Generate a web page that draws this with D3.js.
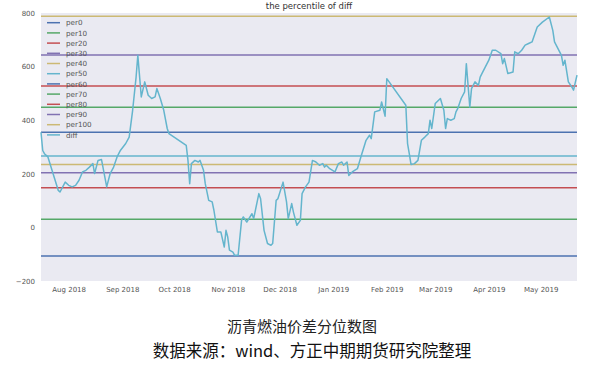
<!DOCTYPE html>
<html><head><meta charset="utf-8">
<script src="https://cdn.jsdelivr.net/npm/d3@7"></script>
<style>body{margin:0;background:#fff}svg{display:block}</style>
</head><body>
<svg id="c" width="600" height="366"></svg>
<script>
const title = "the percentile of diff";
const caption1 = "沥青燃油价差分位数图";
const caption2 = "数据来源：wind、方正中期期货研究院整理";
const percentileNames = ["per0","per10","per20","per30","per40","per50","per60","per70","per80","per90","per100"];
const percentileValues = [-107, 30, 148, 204, 235, 266, 355, 448, 528, 643, 788];
const seriesName = "diff";
const yTicks = [-200, 0, 200, 400, 600, 800];
const xTickMonths = ["2018-08-01","2018-09-01","2018-10-01","2018-11-01","2018-12-01","2019-01-01","2019-02-01","2019-03-01","2019-04-01","2019-05-01"];
const palette = ["#4C72B0","#55A868","#C44E52","#8172B2","#CCB974","#64B5CD"];
const diffDates = [
"2018-07-16","2018-07-17","2018-07-18","2018-07-20","2018-07-26","2018-07-27","2018-07-30",
"2018-08-01","2018-08-03","2018-08-05","2018-08-07","2018-08-09","2018-08-11","2018-08-13","2018-08-15","2018-08-16","2018-08-18","2018-08-20","2018-08-23","2018-08-25","2018-08-27","2018-08-29","2018-08-31",
"2018-09-03","2018-09-05","2018-09-07","2018-09-09","2018-09-10","2018-09-12","2018-09-14","2018-09-16","2018-09-18","2018-09-20","2018-09-21","2018-09-23","2018-09-25","2018-09-27","2018-09-28",
"2018-10-08","2018-10-09","2018-10-10","2018-10-11","2018-10-13","2018-10-15","2018-10-16","2018-10-18","2018-10-19","2018-10-21","2018-10-23","2018-10-24","2018-10-26","2018-10-28","2018-10-30","2018-10-31",
"2018-11-01","2018-11-02","2018-11-04","2018-11-05","2018-11-07","2018-11-09","2018-11-10","2018-11-12","2018-11-15","2018-11-16","2018-11-19","2018-11-20","2018-11-22","2018-11-24","2018-11-26","2018-11-27","2018-11-29","2018-11-30",
"2018-12-03","2018-12-05","2018-12-06","2018-12-08","2018-12-09","2018-12-11","2018-12-13","2018-12-14","2018-12-16","2018-12-18","2018-12-20","2018-12-22","2018-12-24","2018-12-26","2018-12-27","2018-12-28","2018-12-30",
"2019-01-02","2019-01-04","2019-01-06","2019-01-07","2019-01-09","2019-01-10","2019-01-12","2019-01-15","2019-01-17","2019-01-20","2019-01-22","2019-01-23","2019-01-25","2019-01-28","2019-01-29","2019-01-31",
"2019-02-01","2019-02-12","2019-02-13","2019-02-14","2019-02-15","2019-02-17","2019-02-19","2019-02-21","2019-02-23","2019-02-25","2019-02-26","2019-02-27",
"2019-03-01","2019-03-04","2019-03-06","2019-03-07","2019-03-08","2019-03-10","2019-03-12","2019-03-13","2019-03-14","2019-03-16","2019-03-18","2019-03-19","2019-03-21","2019-03-22","2019-03-24","2019-03-26","2019-03-27","2019-03-28","2019-03-30",
"2019-04-01","2019-04-03","2019-04-05","2019-04-08","2019-04-09","2019-04-10","2019-04-12","2019-04-15","2019-04-16","2019-04-18","2019-04-20","2019-04-22","2019-04-24","2019-04-26","2019-04-29",
"2019-05-02","2019-05-06","2019-05-08","2019-05-09","2019-05-11","2019-05-13","2019-05-14","2019-05-15","2019-05-17","2019-05-19","2019-05-20","2019-05-22"];
const diffValues = [
355,287,275,263,138,132,169,
157,151,157,176,207,213,225,238,201,250,253,151,201,225,263,288,
313,337,437,561,642,487,543,493,481,487,518,481,437,369,350,
306,250,163,238,250,244,250,213,163,101,95,64,-17,-17,-73,-11,
-36,-85,-92,-104,-104,26,39,20,51,33,126,107,-11,-60,-67,-60,101,107,
169,95,33,89,57,8,26,126,151,169,250,244,232,238,225,232,219,
207,238,244,232,244,194,207,219,263,325,344,331,431,437,468,415,
555,456,313,275,235,238,250,325,337,350,400,369,
462,481,437,369,406,400,406,431,443,481,506,611,449,518,543,530,561,574,599,
624,661,661,648,611,630,574,580,655,648,661,680,686,692,748,
766,785,735,692,667,642,605,624,543,524,512,568];

const svg = d3.select("#c");
const L = 41, R = 577, T = 13, B = 281;
const parse = d3.timeParse("%Y-%m-%d");
const data = diffDates.map((d,i)=>({date: parse(d), value: diffValues[i]}));
const x = d3.scaleTime().domain(d3.extent(data, d=>d.date)).range([L, R]);
const y = d3.scaleLinear().domain([-200, 800]).range([B, T]);

svg.append("rect").attr("x", L).attr("y", T).attr("width", R-L).attr("height", B-T).attr("fill", "#EAEAF2");

svg.append("text").attr("x", (L+R)/2).attr("y", 9).attr("text-anchor","middle")
  .attr("font-family","DejaVu Sans").attr("font-size", 8.5).attr("fill","#333").text(title);

const yAxis = d3.axisLeft(y).tickValues(yTicks).tickSize(0).tickPadding(6)
  .tickFormat(d => d < 0 ? "\u2212" + Math.abs(d) : d);
const gy = svg.append("g").attr("transform", `translate(${L},0)`).call(yAxis);
gy.select(".domain").remove();
gy.selectAll("text").attr("font-family","DejaVu Sans").attr("font-size", 7).attr("fill","#555");

const xAxis = d3.axisBottom(x).tickValues(xTickMonths.map(parse)).tickSize(0).tickPadding(6)
  .tickFormat(d3.timeFormat("%b %Y"));
const gx = svg.append("g").attr("transform", `translate(0,${B})`).call(xAxis);
gx.select(".domain").remove();
gx.selectAll("text").attr("font-family","DejaVu Sans").attr("font-size", 7).attr("fill","#555");

const plot = svg.append("g");
percentileNames.forEach((n,i) => {
  plot.append("line").attr("x1", L).attr("x2", R)
    .attr("y1", y(percentileValues[i])).attr("y2", y(percentileValues[i]))
    .attr("stroke", palette[i % 6]).attr("stroke-width", 1.5);
});
const line = d3.line().x(d=>x(d.date)).y(d=>y(d.value));
plot.append("path").datum(data).attr("d", line).attr("fill","none")
  .attr("stroke", palette[11 % 6]).attr("stroke-width", 1.5).attr("stroke-linejoin","round");

const legendNames = percentileNames.concat([seriesName]);
const lg = svg.append("g");
legendNames.forEach((n,i) => {
  const yy = 22.7 + i*10.2;
  lg.append("line").attr("x1", 47).attr("x2", 60).attr("y1", yy).attr("y2", yy)
    .attr("stroke", palette[i % 6]).attr("stroke-width", 1.5);
  lg.append("text").attr("x", 66).attr("y", yy + 2.6)
    .attr("font-family","DejaVu Sans").attr("font-size", 7.2).attr("fill","#555").text(n);
});

svg.append("text").attr("x", 302).attr("y", 332).attr("text-anchor","middle")
  .attr("font-family","Noto Sans CJK SC").attr("font-size", 15).attr("fill","#222").text(caption1);
svg.append("text").attr("x", 312).attr("y", 357).attr("text-anchor","middle")
  .attr("font-family","Noto Sans CJK SC").attr("font-size", 16.5).attr("fill","#111").text(caption2);
</script>
</body></html>
